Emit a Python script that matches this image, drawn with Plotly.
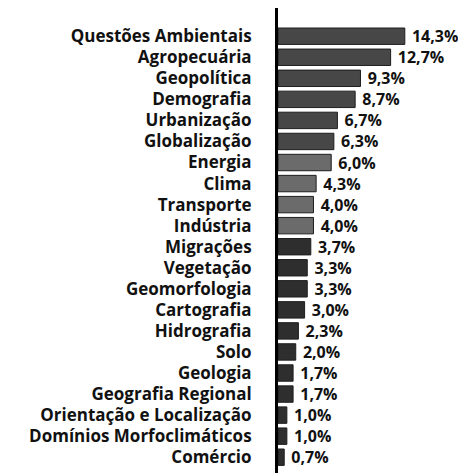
import plotly.graph_objects as go

# Data
topics = [
    "Questões Ambientais", "Agropecuária", "Geopolítica", "Demografia",
    "Urbanização", "Globalização", "Energia", "Clima", "Transporte",
    "Indústria", "Migrações", "Vegetação", "Geomorfologia", "Cartografia",
    "Hidrografia", "Solo", "Geologia", "Geografia Regional",
    "Orientação e Localização", "Domínios Morfoclimáticos", "Comércio",
]
shares = [14.3, 12.7, 9.3, 8.7, 6.7, 6.3, 6.0, 4.3, 4.0, 4.0, 3.7, 3.3,
          3.3, 3.0, 2.3, 2.0, 1.7, 1.7, 1.0, 1.0, 0.7]
bar_colors = (["#474747"] * 6 + ["#6b6b6b"] * 4 + ["#2e2e2e"] * 11)

FONT = "Open Sans"

labels = [" " + f"{v:.1f}%".replace(".", ",") for v in shares]

fig = go.Figure(go.Bar(
    x=shares,
    y=topics,
    orientation="h",
    marker=dict(color=bar_colors, line=dict(color="#1e1e1e", width=1)),
    text=labels,
    textposition="outside",
    constraintext="none",
    textfont=dict(family=FONT, size=16, color="#111111", weight="bold"),
    cliponaxis=False,
))

# the page body has an 8px margin, so the figure is sized to fit what remains
fig.update_layout(
    width=458,
    height=465,
    margin=dict(l=270, r=0, t=0, b=0),
    plot_bgcolor="white",
    paper_bgcolor="white",
    bargap=0.22,
    showlegend=False,
    xaxis=dict(range=[0, 21.2], visible=False),
    yaxis=dict(
        range=[len(topics) - 0.25, -1.34],
        tickmode="array",
        tickvals=topics,
        showline=True,
        linecolor="black",
        linewidth=3,
        ticks="",
        showgrid=False,
        ticklabelstandoff=20,
        tickfont=dict(family=FONT, size=17, color="#111111", weight="bold"),
    ),
)

fig.write_html("out.html")
